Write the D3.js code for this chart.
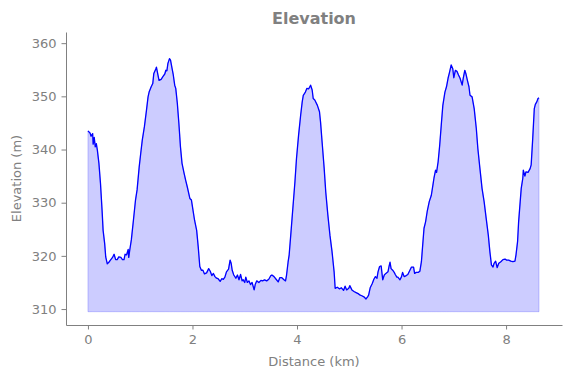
<!DOCTYPE html>
<html>
<head>
<meta charset="utf-8">
<script src="https://cdn.jsdelivr.net/npm/d3@7"></script>
<style>
  body { margin: 0; background: #fff; }
  text { font-family: "DejaVu Sans", sans-serif; }
</style>
</head>
<body>
<svg id="chart"></svg>
<script>
// distance (km) and elevation (m)
const distance = [0, 0.04, 0.06, 0.09, 0.10, 0.12, 0.14, 0.16, 0.18, 0.21, 0.24, 0.27, 0.29, 0.32, 0.34, 0.37, 0.40, 0.43, 0.47, 0.50,
  0.53, 0.56, 0.59, 0.63, 0.66, 0.69, 0.71, 0.74, 0.77, 0.78, 0.80, 0.83, 0.87, 0.91, 0.94, 0.98, 1.01, 1.04, 1.08, 1.12,
  1.15, 1.17, 1.21, 1.24, 1.26, 1.30, 1.31, 1.34, 1.36, 1.40, 1.44, 1.47, 1.49, 1.51, 1.53, 1.56, 1.58, 1.61, 1.63, 1.66,
  1.68, 1.71, 1.74, 1.77, 1.80, 1.84, 1.87, 1.90, 1.95, 1.98, 2.00, 2.04, 2.08, 2.11, 2.14, 2.17, 2.20, 2.23, 2.27, 2.31,
  2.34, 2.37, 2.40, 2.43, 2.46, 2.49, 2.53, 2.56, 2.59, 2.62, 2.65, 2.69, 2.72, 2.74, 2.76, 2.79, 2.83, 2.86, 2.89, 2.92,
  2.95, 2.97, 3.00, 3.02, 3.05, 3.08, 3.11, 3.14, 3.18, 3.20, 3.23, 3.27, 3.31, 3.34, 3.38, 3.42, 3.46, 3.50, 3.52, 3.56,
  3.60, 3.64, 3.67, 3.71, 3.75, 3.78, 3.80, 3.83, 3.85, 3.88, 3.92, 3.96, 3.99, 4.03, 4.07, 4.10, 4.12, 4.16, 4.19, 4.22,
  4.24, 4.26, 4.29, 4.31, 4.34, 4.39, 4.43, 4.45, 4.48, 4.52, 4.55, 4.59, 4.63, 4.67, 4.71, 4.73, 4.77, 4.81, 4.85, 4.89,
  4.92, 4.95, 4.99, 5.01, 5.05, 5.09, 5.13, 5.17, 5.21, 5.24, 5.28, 5.32, 5.35, 5.37, 5.40, 5.44, 5.47, 5.50, 5.53, 5.55,
  5.58, 5.61, 5.64, 5.67, 5.70, 5.74, 5.76, 5.78, 5.80, 5.83, 5.86, 5.88, 5.91, 5.93, 5.97, 6.00, 6.02, 6.05, 6.09, 6.12,
  6.16, 6.19, 6.23, 6.25, 6.28, 6.32, 6.35, 6.38, 6.41, 6.43, 6.46, 6.49, 6.53, 6.57, 6.60, 6.62, 6.65, 6.67, 6.70, 6.73,
  6.76, 6.79, 6.83, 6.86, 6.89, 6.92, 6.95, 6.98, 7.00, 7.03, 7.06, 7.09, 7.12, 7.16, 7.18, 7.21, 7.23, 7.26, 7.29, 7.31,
  7.35, 7.39, 7.43, 7.46, 7.50, 7.54, 7.58, 7.62, 7.66, 7.69, 7.72, 7.75, 7.77, 7.80, 7.83, 7.86, 7.90, 7.94, 7.98, 8.01,
  8.05, 8.09, 8.13, 8.17, 8.19, 8.22, 8.24, 8.27, 8.29, 8.32, 8.33, 8.36, 8.38, 8.42, 8.46, 8.48, 8.51, 8.54, 8.56, 8.59,
  8.61, 8.63];
const elevation = [343.5, 343.1, 342.5, 343.0, 341.0, 342.3, 340.5, 341.1, 339.9, 337.4, 333.6, 328.6, 324.8, 322.3, 319.8, 318.5, 318.8, 319.2, 319.7, 320.3,
  319.3, 319.3, 319.8, 319.7, 319.3, 319.3, 320.3, 320.2, 321.2, 319.7, 321.1, 323.0, 326.7, 330.5, 332.4, 336.7, 339.3, 341.8, 344.3, 347.4,
  349.9, 350.8, 351.8, 352.4, 354.3, 355.2, 355.5, 354.0, 353.0, 353.2, 353.8, 354.2, 354.9, 354.8, 356.2, 357.1, 356.8, 355.2, 354.2, 352.1,
  351.5, 348.7, 344.9, 340.5, 337.4, 335.5, 334.2, 333.0, 330.8, 330.5, 329.2, 326.7, 324.8, 321.7, 318.0, 317.3, 317.3, 316.6, 316.8, 317.6,
  317.1, 316.3, 316.7, 316.1, 315.8, 315.7, 315.2, 315.7, 315.6, 316.0, 317.0, 317.5, 319.2, 318.6, 317.3, 316.4, 315.8, 316.4, 315.5, 316.5,
  315.3, 315.5, 315.0, 316.0, 315.0, 315.3, 314.6, 315.0, 313.6, 314.6, 315.3, 315.0, 315.4, 315.3, 315.5, 315.3, 315.6, 316.3, 316.4, 316.1,
  315.6, 315.1, 315.9, 315.9, 315.5, 315.3, 316.4, 318.9, 320.2, 323.9, 328.9, 333.9, 338.3, 342.7, 346.5, 349.0, 350.2, 350.8, 351.5, 351.4,
  351.7, 352.1, 351.2, 349.6, 349.3, 348.3, 347.1, 345.2, 341.4, 336.4, 332.0, 327.7, 323.9, 320.8, 317.0, 313.9, 314.1, 313.8, 314.0, 313.5,
  314.3, 313.6, 313.9, 314.4, 313.6, 313.3, 313.1, 312.9, 312.6, 312.5, 312.3, 311.9, 312.3, 312.6, 314.0, 314.8, 315.6, 316.1, 315.8, 317.0,
  318.0, 318.1, 315.5, 316.4, 316.7, 317.0, 318.0, 318.8, 317.6, 317.3, 316.9, 316.5, 316.0, 316.0, 315.5, 316.1, 316.9, 316.1, 316.3, 316.5,
  317.3, 317.9, 317.9, 316.7, 316.9, 316.9, 317.1, 318.9, 322.7, 325.2, 326.4, 328.3, 330.2, 331.4, 333.3, 334.6, 336.1, 335.7, 337.7, 340.8,
  344.6, 348.3, 350.8, 351.8, 353.4, 354.6, 355.9, 355.2, 353.5, 354.9, 354.7, 354.0, 353.4, 352.1, 353.4, 354.9, 354.3, 353.0, 351.8, 350.2,
  349.9, 347.7, 344.0, 340.2, 336.4, 332.7, 330.2, 327.0, 323.9, 320.8, 318.3, 317.9, 318.6, 319.0, 317.8, 318.6, 318.9, 319.3, 319.4, 319.2,
  319.2, 319.0, 318.9, 319.0, 320.2, 322.7, 326.4, 330.2, 332.7, 334.6, 336.1, 335.0, 335.8, 335.7, 336.4, 337.1, 342.1, 347.7, 348.5, 349.0,
  349.6, 349.7];
const xTicks = [0, 2, 4, 6, 8];
const yTicks = [310, 320, 330, 340, 350, 360];
const fillBase = 309.5;

const W = 571, H = 378;
const grey = "#808080";

const svg = d3.select("#chart").attr("width", W).attr("height", H);

const data = distance.map((d, i) => ({ d: d, e: elevation[i] }));

// Scales (axes limits padded like matplotlib)
const x = d3.scaleLinear().domain([-0.42, 9.07]).range([66, 562]);
const y = d3.scaleLinear().domain([307.0, 362.1]).range([325, 32]);

// Filled area under the profile
const area = d3.area()
  .x(d => x(d.d))
  .y0(y(fillBase))
  .y1(d => y(d.e));

svg.append("path")
  .datum(data)
  .attr("d", area)
  .attr("fill", "rgba(0,0,255,0.2)")
  .attr("stroke", "rgba(0,0,255,0.2)")
  .attr("stroke-width", 1);

// Profile line
const line = d3.line()
  .x(d => x(d.d))
  .y(d => y(d.e));

svg.append("path")
  .datum(data)
  .attr("d", line)
  .attr("fill", "none")
  .attr("stroke", "blue")
  .attr("stroke-width", 1.3)
  .attr("stroke-linejoin", "round");

// Axes
const xAxis = svg.append("g")
  .attr("transform", `translate(0,${y.range()[0]})`)
  .call(d3.axisBottom(x).tickValues(xTicks).tickSize(4.5).tickPadding(5).tickSizeOuter(0));

const yAxis = svg.append("g")
  .attr("transform", `translate(${x.range()[0]},0)`)
  .call(d3.axisLeft(y).tickValues(yTicks).tickSize(4.5).tickPadding(5).tickSizeOuter(0));

[xAxis, yAxis].forEach(g => {
  g.select(".domain").attr("stroke", grey).attr("stroke-width", 1);
  g.selectAll(".tick line").attr("stroke", grey).attr("stroke-width", 1);
  g.selectAll(".tick text")
    .attr("fill", grey)
    .style("font-size", "13px")
    .style("font-family", "DejaVu Sans, sans-serif");
});

// Labels
svg.append("text")
  .attr("x", (x.range()[0] + x.range()[1]) / 2)
  .attr("y", 24)
  .attr("text-anchor", "middle")
  .attr("fill", grey)
  .style("font-size", "16px")
  .style("font-weight", "bold")
  .text("Elevation");

svg.append("text")
  .attr("x", (x.range()[0] + x.range()[1]) / 2)
  .attr("y", 366)
  .attr("text-anchor", "middle")
  .attr("fill", grey)
  .style("font-size", "13px")
  .text("Distance (km)");

svg.append("text")
  .attr("transform", `translate(21,${(y.range()[0] + y.range()[1]) / 2}) rotate(-90)`)
  .attr("text-anchor", "middle")
  .attr("fill", grey)
  .style("font-size", "13px")
  .text("Elevation (m)");
</script>
</body>
</html>
